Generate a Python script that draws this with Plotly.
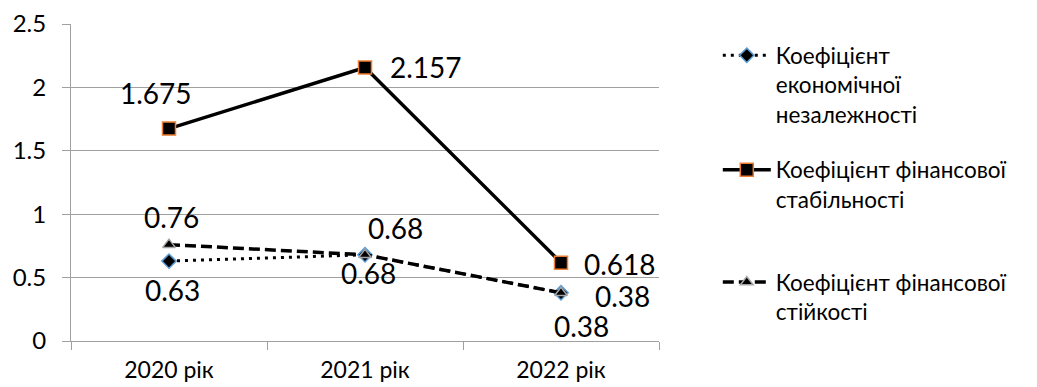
import plotly.graph_objects as go

years = ["2020 рік", "2021 рік", "2022 рік"]

econ_independence = [0.63, 0.68, 0.38]
fin_stability = [1.675, 2.157, 0.618]
fin_steadiness = [0.76, 0.68, 0.38]

names = [
    "Коефіцієнт<br>економічної<br>незалежності",
    "Коефіцієнт фінансової<br>стабільності",
    "Коефіцієнт фінансової<br>стійкості",
]

FONT = "Lato, 'Open Sans', sans-serif"

# label offsets in pixels (dx right, dy down), per series per point
label_offsets = [
    [(3, 29), (3, 18), (20, 33)],
    [(-13, -36), (61, 0), (59, 1)],
    [(2, -28), (30, -27), (61, 3)],
]

series = [
    dict(y=econ_independence, name=names[0], legend="legend",
         line=dict(color="black", width=3, dash="3px,5px"),
         marker=dict(symbol="diamond", size=11, color="black",
                     line=dict(color="#5b9bd5", width=1.5))),
    dict(y=fin_stability, name=names[1], legend="legend2",
         line=dict(color="black", width=3.5),
         marker=dict(symbol="square", size=13, color="black",
                     line=dict(color="#ed7d31", width=1.5))),
    dict(y=fin_steadiness, name=names[2], legend="legend3",
         line=dict(color="black", width=3.5, dash="11px,5px"),
         marker=dict(symbol="triangle-up", size=11, color="black",
                     line=dict(color="#a5a5a5", width=1.5))),
]

fig = go.Figure()
for s in series:
    fig.add_trace(go.Scatter(x=years, y=s["y"], name=s["name"], mode="lines+markers",
                             line=s["line"], marker=s["marker"], legend=s["legend"],
                             showlegend=True))

for s, offs in zip(series, label_offsets):
    for x, v, (dx, dy) in zip(years, s["y"], offs):
        fig.add_annotation(x=x, y=v, text=str(v), showarrow=False,
                           xshift=dx, yshift=-dy,
                           font=dict(family=FONT, size=28, color="black"))

legend_style = dict(font=dict(family=FONT, size=22.5, color="black"),
                    xanchor="left", yanchor="top", valign="top",
                    itemwidth=48, bgcolor="rgba(0,0,0,0)")
fig.update_layout(
    width=1037, height=387,
    margin=dict(l=71, r=378, t=24, b=46, autoexpand=False),
    paper_bgcolor="white", plot_bgcolor="white",
    font=dict(family=FONT, size=22, color="black"),
    showlegend=True,
    legend=dict(x=1.10, y=0.968, **legend_style),
    legend2=dict(x=1.10, y=0.607, **legend_style),
    legend3=dict(x=1.10, y=0.253, **legend_style),
)
fig.update_xaxes(range=[-0.5, 2.5], showline=True, linecolor="#a0a0a0", linewidth=1,
                 ticks="outside", ticklen=8, tickcolor="#a0a0a0",
                 tickson="boundaries", showgrid=False, automargin=False,
                 ticklabelstandoff=8,
                 tickfont=dict(family=FONT, size=23, color="black"))
fig.update_yaxes(range=[0, 2.5], dtick=0.5, showline=True, linecolor="#a0a0a0",
                 linewidth=1, ticks="outside", ticklen=8, tickcolor="#a0a0a0",
                 showgrid=True, gridcolor="#a0a0a0", gridwidth=1, automargin=False,
                 zeroline=False, ticklabelstandoff=11,
                 tickfont=dict(family=FONT, size=24, color="black"))

# drop the browser's default body margin so the figure sits at the window corner
fig.write_html("out.html", config={"displayModeBar": False},
               post_script="document.body.style.margin='0';")
